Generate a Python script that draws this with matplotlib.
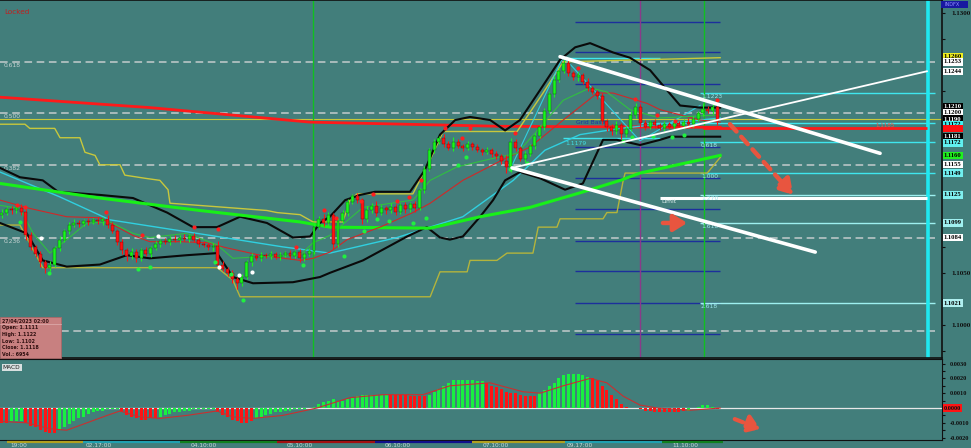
import numpy as np
import matplotlib
matplotlib.use("Agg")
import matplotlib.pyplot as plt
from matplotlib.patches import Rectangle

BG = "#427e7b"

# ---- price bars (H1) ----
closes = [
    1.1108, 1.1111, 1.1110, 1.1112, 1.1109, 1.1086, 1.1075, 1.1068, 1.1060, 1.1055,
    1.1058, 1.1074, 1.1082, 1.1090, 1.1096, 1.1098, 1.1097, 1.1100, 1.1099, 1.1101,
    1.1100, 1.1102, 1.1096, 1.1090, 1.1080, 1.1072, 1.1066, 1.1070, 1.1064, 1.1072,
    1.1068, 1.1074, 1.1078, 1.1081, 1.1080, 1.1083, 1.1082, 1.1084, 1.1083, 1.1085,
    1.1082, 1.1078, 1.1077, 1.1075, 1.1076, 1.1058, 1.1054, 1.1050, 1.1044, 1.1040,
    1.1046, 1.1060, 1.1066, 1.1064, 1.1067, 1.1066, 1.1068, 1.1065, 1.1067, 1.1069,
    1.1066, 1.1070, 1.1064, 1.1068, 1.1071, 1.1094, 1.1102, 1.1098, 1.1106, 1.1078,
    1.1100, 1.1108, 1.1118, 1.1124, 1.1120, 1.1102, 1.1110, 1.1114, 1.1108, 1.1112,
    1.1110, 1.1113, 1.1109, 1.1115, 1.1111, 1.1116, 1.1112, 1.1130, 1.1150, 1.1168,
    1.1176, 1.1180, 1.1174, 1.1170, 1.1176, 1.1172, 1.1170, 1.1174, 1.1171, 1.1168,
    1.1166, 1.1168, 1.1164, 1.1162, 1.1158, 1.1152, 1.1176, 1.1170, 1.1160, 1.1164,
    1.1172, 1.1182, 1.1190, 1.1206, 1.1222, 1.1236, 1.1244, 1.1252, 1.1242, 1.1238,
    1.1240, 1.1234, 1.1228, 1.1224, 1.1220, 1.1196, 1.1190, 1.1186, 1.1192, 1.1184,
    1.1188, 1.1202, 1.1210, 1.1194, 1.1190, 1.1195, 1.1192, 1.1189, 1.1193, 1.1190,
    1.1194, 1.1191, 1.1195, 1.1193, 1.1198, 1.1204, 1.1208, 1.1206, 1.1210, 1.1196]
first_open = 1.1106
up_wick = [  # pips above the body
    3, 2, 3, 2, 4, 2, 3, 2, 3, 2, 3, 2, 3, 2, 3, 4, 3, 2, 3, 2,
    3, 2, 4, 3, 2, 3, 2, 4, 3, 2, 3, 2, 3, 2, 3, 2, 3, 2, 3, 2,
    3, 2, 3, 2, 3, 5, 3, 2, 3, 2, 3, 2, 3, 2, 3, 2, 3, 2, 3, 2,
    3, 2, 3, 2, 3, 4, 3, 5, 3, 2, 3, 2, 3, 2, 3, 2, 4, 3, 5, 3,
    2, 4, 3, 2, 3, 2, 3, 2, 3, 2, 3, 2, 4, 3, 5, 3, 2, 3, 2, 3,
    2, 3, 2, 3, 2, 5, 4, 3, 2, 3, 2, 3, 2, 3, 2, 3, 3, 4, 3, 2,
    3, 2, 3, 2, 2, 3, 2, 3, 4, 2, 3, 4, 3, 2, 3, 2, 3, 2, 3, 2,
    3, 2, 3, 4, 3, 2, 5, 3, 2, 6]
lo_wick = [  # pips below the body
    3, 2, 3, 2, 3, 4, 3, 3, 4, 5, 3, 2, 3, 2, 3, 2, 3, 2, 3, 2,
    3, 4, 3, 2, 3, 4, 5, 3, 4, 3, 2, 3, 2, 3, 2, 3, 2, 3, 2, 3,
    2, 3, 2, 3, 4, 3, 2, 3, 4, 6, 3, 2, 3, 2, 3, 2, 3, 2, 3, 2,
    3, 2, 4, 3, 2, 3, 2, 3, 2, 5, 3, 2, 3, 2, 3, 5, 3, 2, 3, 2,
    3, 2, 3, 2, 3, 2, 3, 2, 3, 2, 3, 2, 3, 2, 3, 2, 3, 2, 3, 2,
    3, 2, 3, 2, 3, 6, 5, 3, 2, 3, 2, 3, 2, 3, 2, 3, 2, 2, 3, 2,
    3, 2, 3, 2, 3, 3, 4, 3, 2, 5, 3, 2, 3, 4, 3, 2, 3, 2, 3, 2,
    3, 2, 3, 2, 3, 2, 3, 2, 3, 4]

# ---- indicator lines as (bar, price) vertices ----
ma_slow = [(-0.4, 1.1219), (30.8, 1.1209), (64.2, 1.1195), (103.75, 1.1191), (149.6, 1.1190)]
ma_lime = [(-0.4, 1.1136), (20.4, 1.1122), (41.25, 1.1110), (62.1, 1.1099), (68.3, 1.1094),
           (89.2, 1.1093), (99.6, 1.1104), (110, 1.1113), (120.4, 1.1127), (128.8, 1.1139),
           (132.9, 1.1146), (149.6, 1.1163)]
ma_cyan = [(-0.4, 1.1147), (12.1, 1.1123), (22.5, 1.1101), (44.8, 1.1085), (58.5, 1.1075),
           (68.3, 1.1069), (82.3, 1.1084), (96, 1.1104), (106.5, 1.1139), (113.1, 1.1168),
           (120.4, 1.1183), (128.8, 1.1189), (149.6, 1.1199)]
ma_red_thin = [(-0.4, 1.1120), (5.8, 1.1112), (13.5, 1.1104), (20.4, 1.1103), (27.3, 1.1086),
               (30.8, 1.1080), (37.1, 1.1080), (42.7, 1.1079), (46.9, 1.1074), (53.75, 1.1067),
               (62.1, 1.1062), (64.8, 1.1064), (68.3, 1.1070), (71.9, 1.1082), (78.75, 1.1094),
               (85.6, 1.1108), (89.2, 1.1117), (96, 1.1139), (104.4, 1.1159), (110, 1.1171),
               (116.9, 1.1197), (124, 1.1223), (127.3, 1.1223), (134.4, 1.1213), (137.1, 1.1207),
               (145.4, 1.1197), (149.6, 1.1195)]
ma_green_thin = [(-0.4, 1.1115), (3.75, 1.1112), (6.5, 1.1088), (10, 1.1069), (13.5, 1.1082),
                 (17.7, 1.1098), (22.5, 1.1099), (27.3, 1.1088), (30.8, 1.1084), (38.5, 1.1088),
                 (44.8, 1.1077), (48.1, 1.1064), (51.7, 1.1065), (62.1, 1.1067), (64.8, 1.1079),
                 (68.3, 1.1086), (75.2, 1.1113), (85.6, 1.1120), (89.2, 1.1139), (94.8, 1.1152),
                 (103.1, 1.1161), (107.3, 1.1165), (112.1, 1.1190), (116.9, 1.1216), (122.5, 1.1228),
                 (126, 1.1224), (130.8, 1.1207), (137.1, 1.1199), (149.6, 1.1202)]
bb_upper = [(-0.4, 1.1151), (3.75, 1.1142), (8.5, 1.1139), (11.7, 1.1128), (20.4, 1.1125),
            (27.3, 1.1122), (34.4, 1.1108), (39.8, 1.1094), (44.8, 1.1094), (49.6, 1.1104),
            (55.2, 1.1098), (60.6, 1.1084), (64.2, 1.1085), (66.25, 1.1098), (68.3, 1.1104),
            (71.5, 1.1120), (74.6, 1.1125), (77.7, 1.1128), (85, 1.1128), (88.1, 1.1149),
            (91.25, 1.1183), (94.4, 1.1197), (97.5, 1.1200), (101.7, 1.1197), (104.8, 1.1187),
            (107.9, 1.1197), (112.1, 1.1226), (116.25, 1.1255), (119.4, 1.1267), (122.5, 1.1271),
            (127.3, 1.1262), (130.8, 1.1257), (135, 1.1245), (138.1, 1.1228), (141.25, 1.1211),
            (145.4, 1.1209), (149.6, 1.1209)]
bb_lower = [(-0.4, 1.1098), (5.2, 1.1088), (8.5, 1.1062), (13.5, 1.1056), (20.4, 1.1058),
            (26, 1.1067), (30.8, 1.1064), (38.5, 1.1067), (44.8, 1.1069), (48.1, 1.1046),
            (52.3, 1.1040), (60.6, 1.1041), (66.25, 1.1046), (68.3, 1.1050), (75.2, 1.1062),
            (84.4, 1.1085), (88.5, 1.1094), (91.25, 1.1084), (93.3, 1.1082), (96, 1.1085),
            (99.6, 1.1104), (102.3, 1.1120), (104.8, 1.1139), (107.9, 1.1147), (112.1, 1.1141),
            (117.3, 1.1130), (121, 1.1136), (125.2, 1.1178), (128.1, 1.1178), (132.9, 1.1173),
            (137.1, 1.1178), (139.2, 1.1181), (149.6, 1.1181)]
donchian_hi = [(-0.4, 1.1193), (4.8, 1.1193), (5.8, 1.1189), (11, 1.1189), (12.1, 1.1180),
               (16.25, 1.1180), (17.3, 1.1166), (19.4, 1.1163), (20.4, 1.1154), (24.6, 1.1154),
               (25.6, 1.1144), (29.8, 1.1141), (32.9, 1.1139), (34.6, 1.1130), (35, 1.1117),
               (55.2, 1.1110), (57.3, 1.1108), (62.1, 1.1106), (64.8, 1.1099), (71, 1.1099),
               (72.5, 1.1120), (74, 1.1126), (85.6, 1.1126), (89.2, 1.1159), (91.9, 1.1186),
               (107.3, 1.1186), (112.7, 1.1223), (116.9, 1.1253), (149.6, 1.1257)]
donchian_lo = [(-0.4, 1.1096), (3.75, 1.1096), (8.5, 1.1055), (44.8, 1.1055), (45.4, 1.1053),
               (48.1, 1.1043), (49.6, 1.1027), (89.2, 1.1027), (91.25, 1.1051), (96.9, 1.1051),
               (97.5, 1.1062), (103.1, 1.1062), (105.2, 1.1069), (110.6, 1.1069), (111.7, 1.1094),
               (115.6, 1.1094), (116.25, 1.1102), (125.2, 1.1102), (126, 1.1108), (128.1, 1.1108),
               (129.4, 1.1139), (129.8, 1.1146), (146.9, 1.1146), (149.6, 1.1161)]
zigzag = [(105.8, 1.1149), (116.9, 1.1258), (132.9, 1.1177), (145.4, 1.1211)]

# hand-drawn trend lines
trend_down_hi = [(116.25, 1.1258), (182.9, 1.1165)]
trend_down_lo = [(106.25, 1.1151), (169.4, 1.1070)]
trend_up = [(106.25, 1.1151), (192.7, 1.1244)]

# fractal dots
red_dots = [(3.1, 1.1115), (4.8, 1.1113), (21.7, 1.1109), (29.2, 1.1086), (40, 1.1094),
            (45, 1.1092), (61.25, 1.1075), (67.1, 1.1110), (69.6, 1.1103), (74.8, 1.1119),
            (77.3, 1.1126), (82.3, 1.1119), (84.8, 1.1123), (87.3, 1.1139), (92.3, 1.1189),
            (95.8, 1.1180), (97.5, 1.1189), (106.9, 1.1185), (120, 1.1247), (131.9, 1.1217),
            (136.5, 1.1202), (140.2, 1.1196), (149, 1.1216)]
green_dots = [(3.75, 1.1099), (9.8, 1.1050), (28.3, 1.1054), (30.8, 1.1056), (44.4, 1.1060),
              (47.7, 1.1049), (50.2, 1.1024), (62.7, 1.1058), (71.25, 1.1066), (75.4, 1.1090),
              (78.1, 1.1102), (80.6, 1.1100), (85.6, 1.1098), (88.3, 1.1103), (95, 1.1154),
              (96.7, 1.1161), (105.8, 1.1150), (109.4, 1.1156), (129.4, 1.1177), (131.25, 1.1181),
              (135.6, 1.1182), (139.6, 1.1181), (142.1, 1.1183)]
white_dots = [(8.1, 1.1084), (32.5, 1.1085), (45.2, 1.1056), (49.4, 1.1048), (52.1, 1.1051)]

# levels
fib_dashed = [1.1253, 1.1204, 1.1154, 1.1084, 1.0994]
fib_dashed_labels = ["0.618", "0.500", "0.382", "0.236", ""]
grid_blue = [1.1291, 1.1262, 1.1232, 1.1171, 1.1141, 1.1111, 1.1081, 1.1052, 1.1021, 1.0991]
target_levels = [1.1223, 1.1194, 1.1176, 1.1146, 1.1125, 1.1098, 1.1021]
target_labels = ["1.1223", "", "0.618", "1.000", "1.270", "1.618", "2.618"]
bid_level = 1.1198
red_level = 1.1189
limit_level = 1.1122

# right axis tags: (price, text, face, text colour)
axis_tags = [(1.1258, "1.1260", "#f0f020", "#000000"), (1.1253, "1.1253", "#ffffff", "#000000"),
             (1.1244, "1.1244", "#ffffff", "#000000"), (1.1210, "1.1210", "#000000", "#ffffff"),
             (1.1204, "1.1200", "#ffffff", "#000000"), (1.1198, "1.1190", "#000000", "#ffffff"),
             (1.1193, "1.1172", "#40f0f0", "#000000"), (1.1189, "1.1186", "#ff1010", "#ff1010"),
             (1.1181, "1.1181", "#000000", "#ffffff"), (1.1175, "1.1172", "#60f0f0", "#000000"),
             (1.1163, "1.1160", "#20f020", "#000000"), (1.1154, "1.1155", "#ffffff", "#000000"),
             (1.1146, "1.1149", "#70f0f0", "#000000"), (1.1125, "1.1125", "#80f0f0", "#000000"),
             (1.1098, "1.1099", "#a0f0f0", "#000000"), (1.1084, "1.1084", "#ffffff", "#000000"),
             (1.1021, "1.1021", "#b0f0f0", "#000000")]
axis_ticks = [1.1300, 1.1050, 1.1000]

# ---- MACD (1e-4 units) ----
macd_hist = [
    -10, -10, -9, -9, -9, -10, -12, -13, -15, -16, -17, -17, -15, -13, -11, -9, -7, -6, -4, -3,
    -2, -2, -1, -1, -1, -3, -5, -6, -7, -8, -8, -7, -7, -6, -5, -4, -3, -3, -2, -2,
    -1, -1, -1, -1, -1, -3, -5, -6, -8, -9, -10, -10, -9, -7, -6, -5, -4, -3, -3, -2,
    -2, -1, -1, -1, 0, 1, 3, 4, 5, 6, 5, 5, 6, 7, 8, 9, 9, 9, 9, 9,
    9, 9, 9, 9, 9, 8, 8, 8, 8, 9, 11, 13, 15, 17, 19, 19, 19, 19, 19, 18,
    18, 17, 15, 14, 13, 11, 10, 10, 9, 8, 8, 8, 10, 12, 15, 17, 20, 22, 23, 23,
    23, 22, 21, 20, 18, 15, 12, 9, 6, 3, 1, 0, 0, -1, -2, -2, -3, -3, -3, -3,
    -3, -3, -2, -2, 0, 1, 2, 2, 1, -1]
macd_dir = ("rr" + "ggg" + "r" * 7 + "g" * 13 + "r" * 8 + "g" * 12 + "r" * 8 + "g" * 28
            + "r" * 8 + "g" * 12 + "r" * 11 + "g" * 11 + "r" * 20 + "g" * 6 + "r")
macd_signal = [(-0.4, -9), (5.2, -10), (10, -14), (13.5, -15), (17.7, -10), (21.9, -5),
               (24.6, -2), (28.75, -6), (32.9, -7), (38.5, -5), (44.8, -2), (48.1, -6),
               (52.3, -7), (58.5, -5), (65.6, 0), (72.5, 7), (79.4, 9), (87.7, 9), (93.3, 15),
               (101.7, 17), (108.5, 11), (112.1, 10), (116.9, 15), (122.5, 20), (126, 17),
               (129.4, 8), (132.9, 2), (136.5, 0), (143.3, -1.5), (149.6, 0)]
macd_ticks = [0.0030, 0.0020, 0.0010, -0.0010, -0.0020]

# time axis
day_bounds = [1.0, 16.9, 37.1, 57.3, 77.7, 97.9, 117.3, 137.5, 150.2]
day_colors = ["#b0a020", "#20a0b0", "#108020", "#a01010", "#10108a", "#b0a020", "#20a0b0", "#108020"]
time_labels = ["19:00", "02.17:00", "04.10:00", "05.10:00", "06.10:00", "07.10:00", "09.17:00", "11.10:00"]
time_label_bars = [1.7, 17.5, 39.4, 59.4, 79.8, 100.2, 117.7, 139.6]

info_lines = ["27/04/2023 02:00", "Open: 1.1111", "High: 1.1122", "Low: 1.1102",
              "Close: 1.1118", "Vol.: 6954"]

# ------------------------------------------------------------------
W, H = 971, 448
fig = plt.figure(figsize=(W / 100, H / 100), dpi=100)
fig.patch.set_facecolor(BG)


def fx(px):
    return px / W


def fy(py):
    return 1 - py / H


XL = (-0.4, 195.8)
ax = fig.add_axes([0, fy(358), fx(942), 358 / H])
ax.set_facecolor(BG)
ax.set_xlim(*XL)
ax.set_ylim(1.09681, 1.13125)
ax.spines["left"].set_visible(False)
for s in ["top", "right", "bottom"]:
    ax.spines[s].set_color("#101010")
    ax.spines[s].set_linewidth(1.2)
ax.set_xticks([])
ax.yaxis.tick_right()
ax.set_yticks(axis_ticks)
ax.set_yticklabels([f"{v:.4f}" for v in axis_ticks])
ax.set_yticks(np.arange(1.0975, 1.1311, 0.0025), minor=True)
ax.tick_params(axis="y", which="both", direction="out", length=2.5, width=0.8,
               color="#101010", labelsize=5, pad=4, labelcolor="#101010")
for t in ax.get_yticklabels():
    t.set_fontweight("bold")
    t.set_family("Liberation Serif")


def xy(pts):
    a = np.array(pts, dtype=float)
    return a[:, 0], a[:, 1]


# levels and drawn objects (behind price)
ax.hlines(fib_dashed, XL[0], 194.4, colors="#c4cccc", linestyles=(0, (5, 3)), lw=1.1, zorder=1)
for lv, lb in zip(fib_dashed, fib_dashed_labels):
    if lb:
        ax.text(0.3, lv - 0.0001, lb, fontsize=4.3, color="#c8d4d4", va="top", ha="left")
ax.hlines(grid_blue, 119.4, 149.6, colors="#1c2f9c", lw=1.0, zorder=1)
for i, (lv, lb) in enumerate(zip(target_levels, target_labels)):
    c = "#3fe6ee" if i < 4 else "#9ef0f0"
    start = 132.9 if i == 1 else 145.4
    ax.hlines(lv, start, 194.4, colors=c, lw=1.0, zorder=1)
    if lb:
        ax.text(145.6, lv - 0.00008, lb, fontsize=4.3, color="#9ee6ee", va="top", ha="left")
ax.hlines(1.1257, 116.9, 137.1, colors="#3fe6ee", lw=1.0, zorder=1)
ax.hlines(1.1180, 116.9, 137.1, colors="#3fe6ee", lw=1.0, zorder=1)
ax.text(117.3, 1.11765, "1.1179", fontsize=4.3, color="#40e0e8", va="top")
ax.text(119.5, 1.1197, "Grid Base", fontsize=4.3, color="#2030a0", va="top")
ax.axhline(bid_level, color="#c8c838", lw=0.8, zorder=1)
ax.hlines(red_level, 146, 192.7, colors="#ff1a1a", lw=2.0, zorder=2)
ax.text(182, red_level + 0.00005, "1.1185", fontsize=4, color="#ff5040", va="bottom")

for b, c, w in [(64.8, "#10c020", 1.0), (132.9, "#8a3a8a", 1.0), (146.25, "#10c020", 1.0),
                (192.9, "#20e8f0", 2.6)]:
    ax.axvline(b, color=c, lw=w, zorder=1)

# indicators
x, y = xy(ma_slow)
ax.plot(x, y, color="#ff1a1a", lw=2.0, zorder=3)
x, y = xy(donchian_hi)
ax.plot(x, y, color="#c8c83c", lw=1.0, zorder=3)
x, y = xy(donchian_lo)
ax.plot(x, y, color="#b4b43c", lw=1.0, zorder=3)
x, y = xy(ma_cyan)
ax.plot(x, y, color="#30d0e0", lw=1.0, zorder=3)
x, y = xy(zigzag)
ax.plot(x, y, color="#30d0e0", lw=0.8, zorder=3)
x, y = xy(bb_upper)
ax.plot(x, y, color="#0a0a0a", lw=1.5, zorder=3)
x, y = xy(bb_lower)
ax.plot(x, y, color="#0a0a0a", lw=1.5, zorder=3)
x, y = xy(ma_lime)
ax.plot(x, y, color="#18f018", lw=2.2, zorder=3)
x, y = xy(ma_red_thin)
ax.plot(x, y, color="#d02828", lw=0.8, zorder=3)
x, y = xy(ma_green_thin)
ax.plot(x, y, color="#30c040", lw=0.8, zorder=3)

# candles
c = np.array(closes)
o = np.array([first_open] + closes[:-1])
hi = np.maximum(o, c) + np.array(up_wick) * 1e-4
lo = np.minimum(o, c) - np.array(lo_wick) * 1e-4
idx = np.arange(len(c))
bull = c >= o
col = np.where(bull, "#19f51e", "#ff1212")
ax.vlines(idx, lo, hi, colors=col, lw=0.8, zorder=4)
body = np.maximum(np.abs(c - o), 0.00004)
ax.bar(idx, body, bottom=np.minimum(o, c), width=0.62, color=col,
       edgecolor=np.where(bull, "#0a5a0a", "#6a0a0a"), linewidth=0.3, zorder=5)

# fractal dots
for pts, colr in [(red_dots, "#ff2020"), (green_dots, "#20f040"), (white_dots, "#ffffff")]:
    x, y = xy(pts)
    ax.scatter(x, y, s=9, color=colr, zorder=6, linewidths=0)

# trend lines
for pts, w in [(trend_down_hi, 2.6), (trend_down_lo, 2.6), (trend_up, 1.3)]:
    x, y = xy(pts)
    ax.plot(x, y, color="#ffffff", lw=w, solid_capstyle="round", zorder=7)
ax.hlines(limit_level, 137.1, 192.7, colors="#ffffff", lw=2.2, zorder=2)
ax.text(137.3, limit_level - 0.00006, "Limit", fontsize=4.3, color="#e0f0f0", va="top")

# red arrows
ax.annotate("", xy=(165.2, 1.1123), xytext=(151.25, 1.1195),
            arrowprops=dict(arrowstyle="-|>,head_length=0.9,head_width=0.55", color="#e8553f",
                            lw=3.2, linestyle=(0, (2.2, 1.6))), zorder=8)
ax.annotate("", xy=(143.3, 1.1098), xytext=(137.1, 1.1098),
            arrowprops=dict(arrowstyle="-|>,head_length=0.8,head_width=0.5", color="#e8553f",
                            lw=3.2), zorder=8)

ax.text(0.005, 0.975, "Locked", transform=ax.transAxes, fontsize=5.2, color="#c02020",
        va="top", ha="left")

# right-axis tags
for p, t, fc, tc in axis_tags:
    ax.text(1.002, p, t, transform=ax.get_yaxis_transform(), fontsize=4.8, color=tc,
            fontweight="bold", family="Liberation Serif", va="center", ha="left", clip_on=False,
            bbox=dict(boxstyle="square,pad=0.18", fc=fc, ec="none"))
fig.add_artist(Rectangle((fx(941), fy(8)), fx(27), 7 / H, transform=fig.transFigure,
                         fc="#1818a0", ec="none"))
fig.text(fx(944), fy(4.5), "INDFX", fontsize=3.6, color="#9090ff", va="center")

# info box
fig.add_artist(Rectangle((0, fy(358)), fx(61), 41 / H, transform=fig.transFigure,
                         fc="#c88080", ec="#a86868", lw=0.6))
for line, ypx in zip(info_lines, [321, 328, 334.5, 341, 347.5, 354]):
    fig.text(fx(2), fy(ypx), line, fontsize=3.4, color="#301010", va="center",
             fontweight="bold")
fig.add_artist(plt.Line2D([0, fx(61)], [fy(324.5), fy(324.5)], transform=fig.transFigure,
                          color="#e0b0b0", lw=0.5))

# ---- MACD panel ----
mx = fig.add_axes([0, fy(440), fx(942), 81 / H])
mx.set_facecolor(BG)
mx.set_xlim(*XL)
mx.set_ylim(-0.00216, 0.00331)
mx.spines["left"].set_visible(False)
for s in ["top", "right", "bottom"]:
    mx.spines[s].set_color("#101010")
mx.set_xticks([])
mx.yaxis.tick_right()
mx.set_yticks(macd_ticks)
mx.set_yticklabels([f"{v:.4f}" for v in macd_ticks])
mx.set_yticks(np.arange(-0.002, 0.0031, 0.0005), minor=True)
mx.tick_params(axis="y", which="both", direction="out", length=2.5, width=0.8,
               color="#101010", labelsize=4.6, pad=3, labelcolor="#101010")
for t in mx.get_yticklabels():
    t.set_fontweight("bold")
    t.set_family("Liberation Serif")
mx.axhline(0, color="#e8e8e8", lw=0.9, zorder=1)
hist = np.array(macd_hist) * 1e-4
mcol = ["#18f040" if d == "g" else "#ff1414" for d in macd_dir]
mx.bar(np.arange(len(hist)), hist, width=0.62, color=mcol, zorder=2)
x, y = xy(macd_signal)
mx.plot(x, y * 1e-4, color="#c83030", lw=0.8, zorder=3)
mx.text(0.003, 0.93, "MACD", transform=mx.transAxes, fontsize=4.2, color="#202020",
        va="top", bbox=dict(boxstyle="square,pad=0.2", fc="#d8e0e0", ec="none"))
mx.text(1.002, 0.0, "0.0000", transform=mx.get_yaxis_transform(), fontsize=4.6,
        color="#101010", fontweight="bold", family="Liberation Serif", va="center",
        ha="left", clip_on=False, bbox=dict(boxstyle="square,pad=0.18", fc="#ff1414", ec="none"))
mx.annotate("", xy=(158.5, -0.00149), xytext=(152.1, -0.00068),
            arrowprops=dict(arrowstyle="-|>,head_length=0.8,head_width=0.55", color="#e8553f",
                            lw=3.0, linestyle=(0, (2.2, 1.6))), zorder=8)

# ---- time axis strip ----
tx = fig.add_axes([0, 0, fx(942), 8 / H])
tx.set_facecolor("#3c7472")
tx.set_xlim(*XL)
tx.set_ylim(0, 8)
tx.axis("off")
for a, b, cc in zip(day_bounds[:-1], day_bounds[1:], day_colors):
    tx.hlines(6.2, a, b, colors=cc, lw=1.6)
for b, lb in zip(time_label_bars, time_labels):
    tx.text(b, 4.6, lb, fontsize=4.2, color="#c8d8d8", va="top", ha="left", clip_on=False)

fig.savefig("out.png", dpi=100, facecolor=BG)
